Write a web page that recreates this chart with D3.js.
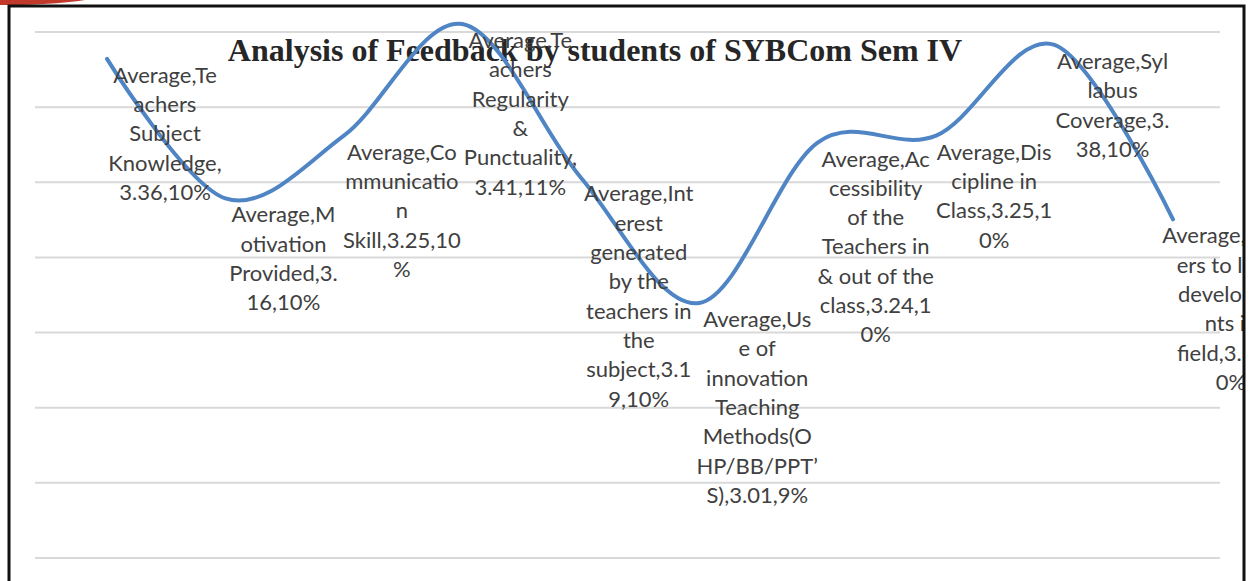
<!DOCTYPE html>
<html>
<head>
<meta charset="utf-8">
<script src="https://cdn.jsdelivr.net/npm/d3@7"></script>
<style>
  body { margin: 0; background: #fff; }
  svg { display: block; }
</style>
</head>
<body>
<script>
// feedback averages, one point per category
var categories = [
  "Teachers Subject Knowledge",
  "Motivation Provided",
  "Communication Skill",
  "Teachers Regularity & Punctuality",
  "Interest generated by the teachers in the subject",
  "Use of innovation Teaching Methods(OHP/BB/PPT’S)",
  "Accessibility of the Teachers in & out of the class",
  "Discipline in Class",
  "Syllabus Coverage",
  "Teachers to learn developments in field"
];
var values = [3.36, 3.16, 3.25, 3.41, 3.19, 3.01, 3.24, 3.25, 3.38, 3.13];
var shares = ["10%", "10%", "10%", "11%", "10%", "9%", "10%", "10%", "10%", "10%"];

// data labels, wrapped the way the original shows them
var labelLines = [
  ["Average,Te", "achers", "Subject", "Knowledge,", "3.36,10%"],
  ["Average,M", "otivation", "Provided,3.", "16,10%"],
  ["Average,Co", "mmunicatio", "n", "Skill,3.25,10", "%"],
  ["Average,Te", "achers", "Regularity", "&", "Punctuality,", "3.41,11%"],
  ["Average,Int", "erest", "generated", "by the", "teachers in", "the", "subject,3.1", "9,10%"],
  ["Average,Us", "e of", "innovation", "Teaching", "Methods(O", "HP/BB/PPT’", "S),3.01,9%"],
  ["Average,Ac", "cessibility", "of the", "Teachers in", "& out of the", "class,3.24,1", "0%"],
  ["Average,Dis", "cipline in", "Class,3.25,1", "0%"],
  ["Average,Syl", "labus", "Coverage,3.", "38,10%"],
  ["Average,Teach", "ers to learn", "developme", "nts in", "field,3.13,1", "0%"]
];

var title = "Analysis of Feedback by students of SYBCom Sem IV";
var gridCount = 8;

var width = 1249;
var height = 581;

var svg = d3.select("body").append("svg")
    .attr("width", width)
    .attr("height", height);

var data = categories.map(function(c, i){
  return {cat: c, value: values[i], share: shares[i], lines: labelLines[i]};
});

var x = d3.scalePoint()
    .domain(categories)
    .range([107, 1173]);

var y = d3.scaleLinear()
    .domain([3.01, 3.41])
    .range([303, 24]);

var gy = d3.scaleLinear()
    .domain([0, gridCount - 1])
    .range([32, 558]);

// clip everything to the inside of the frame
svg.append("clipPath").attr("id", "frame")
  .append("rect")
    .attr("x", 10).attr("y", 7)
    .attr("width", 1233).attr("height", 580);

// red bit of the page above the frame
svg.append("path")
    .attr("d", "M0,0 L85,0 Q60,4 20,5 L0,5 Z")
    .attr("fill", "#c0392b");

var g = svg.append("g").attr("clip-path", "url(#frame)");

// gridlines
g.selectAll(".grid")
    .data(d3.range(gridCount))
  .enter().append("line")
    .attr("class", "grid")
    .attr("x1", 35).attr("x2", 1220)
    .attr("y1", function(d){ return gy(d); })
    .attr("y2", function(d){ return gy(d); })
    .attr("stroke", "#d9d9d9")
    .attr("stroke-width", 2);

// title
g.append("text")
    .attr("x", 595)
    .attr("y", 61)
    .attr("text-anchor", "middle")
    .attr("font-family", "Liberation Serif, Times New Roman, serif")
    .attr("font-weight", "bold")
    .attr("font-size", 32)
    .attr("fill", "#262626")
    .text(title);

// the smoothed line
var line = d3.line()
    .x(function(d){ return x(d.cat); })
    .y(function(d){ return y(d.value); })
    .curve(d3.curveCardinal);

g.append("path")
    .datum(data)
    .attr("d", line)
    .attr("fill", "none")
    .attr("stroke", "#4f85c4")
    .attr("stroke-width", 4)
    .attr("stroke-linecap", "round");

// data labels, to the right of each point
var labels = g.selectAll(".label")
    .data(data)
  .enter().append("text")
    .attr("class", "label")
    .attr("text-anchor", "middle")
    .attr("font-family", "Lato, Open Sans, sans-serif")
    .attr("font-size", 22)
    .attr("fill", "#404040");

labels.selectAll("tspan")
    .data(function(d){
      return d.lines.map(function(t, k){ return {t: t, k: k, d: d}; });
    })
  .enter().append("tspan")
    .attr("x", function(e){ return x(e.d.cat) + 58; })
    .attr("y", function(e){ return y(e.d.value) + 24 + e.k * 29.3; })
    .text(function(e){ return e.t; });

// frame
svg.append("path")
    .attr("d", "M9,581 L9,6 L1244,6 L1244,581")
    .attr("fill", "none")
    .attr("stroke", "#111")
    .attr("stroke-width", 3);
</script>
</body>
</html>
